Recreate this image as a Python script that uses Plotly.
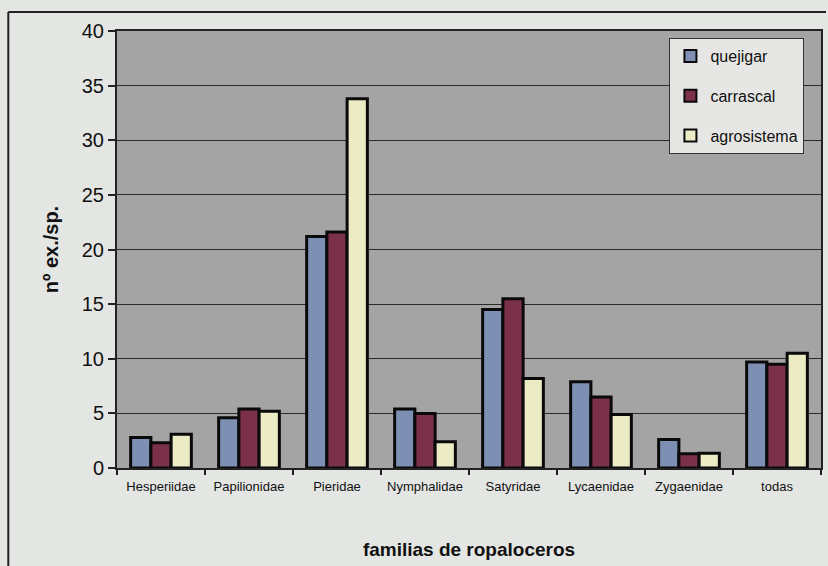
import plotly.graph_objects as go

categories = ["Hesperiidae", "Papilionidae", "Pieridae", "Nymphalidae",
              "Satyridae", "Lycaenidae", "Zygaenidae", "todas"]
quejigar = [2.8, 4.6, 21.2, 5.4, 14.5, 7.9, 2.6, 9.7]
carrascal = [2.3, 5.4, 21.6, 5.0, 15.5, 6.5, 1.3, 9.5]
agrosistema = [3.1, 5.2, 33.8, 2.4, 8.2, 4.9, 1.35, 10.5]

series_names = ["quejigar", "carrascal", "agrosistema"]
series_colors = ["#7d8fb3", "#7b3149", "#ebebc4"]
y_ticks = [0, 5, 10, 15, 20, 25, 30, 35, 40]

FONT = "Liberation Sans, Arial"

fig = go.Figure()
for name, vals, col in zip(series_names, [quejigar, carrascal, agrosistema], series_colors):
    fig.add_trace(go.Bar(
        x=categories, y=vals, name=name, legendgroup=name,
        marker=dict(color=col, line=dict(color="#0a0a0a", width=3)),
    ))

W, H = 828, 566
ml, mr, mt, mb = 117, 5, 31, 98
pw, ph = W - ml - mr, H - mt - mb

def px_x(x):
    return (x - ml) / pw

def px_y(y):
    return (H - mb - y) / ph

fig.update_layout(
    width=W, height=H,
    margin=dict(l=ml, r=mr, t=mt, b=mb, pad=0),
    paper_bgcolor="#e4e6e3",
    plot_bgcolor="#a4a4a4",
    barmode="group",
    bargap=0.31,
    bargroupgap=0,
    font=dict(family=FONT, color="#111111"),
    showlegend=True,
    legend=dict(
        x=px_x(671), y=px_y(38), xanchor="left", yanchor="top",
        bgcolor="#e6e7e4", bordercolor="#333333", borderwidth=1,
        font=dict(family=FONT, size=16, color="#111111"),
        traceorder="grouped", tracegroupgap=16, itemsizing="constant",
        itemwidth=30,
    ),
    xaxis=dict(
        type="category",
        showline=True, linecolor="#222222", linewidth=2,
        ticks="outside", ticklen=5, tickcolor="#222222", tickwidth=2,
        tickson="boundaries",
        ticklabelstandoff=5,
        tickfont=dict(family=FONT, size=13, color="#111111"),
        title=dict(text="<b>familias de ropaloceros</b>",
                   font=dict(family=FONT, size=19, color="#111111"),
                   standoff=50),
        mirror=True,
    ),
    yaxis=dict(
        range=[0, 40],
        tickvals=y_ticks,
        showline=True, linecolor="#222222", linewidth=2,
        ticks="outside", ticklen=7, tickcolor="#222222", tickwidth=2,
        showgrid=True, gridcolor="#2a2a2a", gridwidth=1,
        tickfont=dict(family=FONT, size=20, color="#111111"),
        title=dict(text="<b>nº ex./sp.</b>",
                   font=dict(family=FONT, size=20, color="#111111"),
                   standoff=18),
        mirror=True,
        zeroline=False,
    ),
    shapes=[
        dict(type="line", xref="paper", yref="paper",
             x0=px_x(8), x1=px_x(828), y0=px_y(12), y1=px_y(12),
             line=dict(color="#222222", width=2)),
        dict(type="line", xref="paper", yref="paper",
             x0=px_x(8), x1=px_x(8), y0=px_y(12), y1=px_y(566),
             line=dict(color="#222222", width=2)),
    ],
)

fig.write_html("out.html")
